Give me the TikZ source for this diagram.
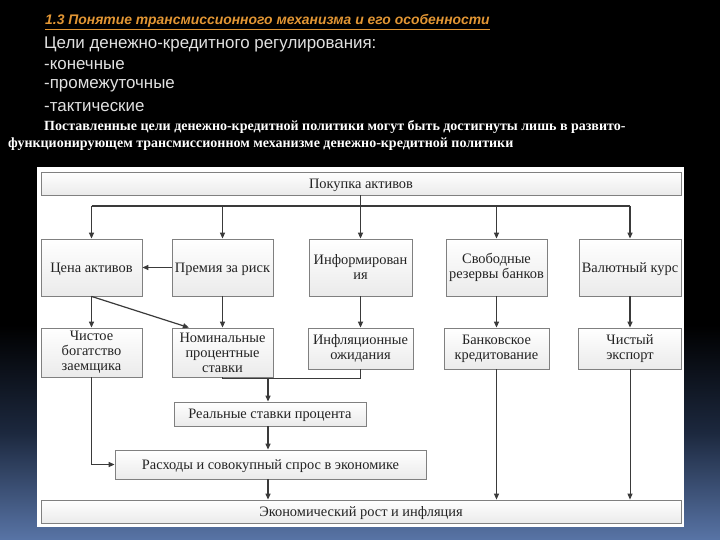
\documentclass[tikz,border=0pt]{standalone}
\usepackage{fontspec}
\setmainfont{Liberation Serif}
\newfontfamily\sansf{Liberation Sans}
\usetikzlibrary{arrows.meta,calc}
\definecolor{ttl}{RGB}{226,150,52}
\definecolor{bgblue}{RGB}{88,116,166}
\definecolor{bgmid}{RGB}{28,40,62}
\definecolor{boxline}{RGB}{128,128,128}
\definecolor{conn}{RGB}{58,58,58}
\definecolor{dtext}{RGB}{35,35,35}
\definecolor{hdtext}{RGB}{225,225,225}
\tikzset{
  x=1pt,y=-1pt,
  box/.style={draw=boxline,line width=0.8pt,top color=white,bottom color=black!8,
    text=dtext,font=\fontsize{14.4}{15}\selectfont,align=center,inner sep=1pt,
    minimum width=#1},
  oneline/.style={execute at begin node={\rule{0pt}{13pt}}},
  arr/.style={draw=conn,line width=1.2pt,-{Triangle[length=6pt,width=5pt]}},
  ln/.style={draw=conn,line width=1.2pt},
  hd/.style={anchor=west,text=hdtext,inner sep=0pt,font=\sansf\fontsize{16.9}{18}\selectfont},
}
\begin{document}
\begin{tikzpicture}
\useasboundingbox (0,0) rectangle (720,540);
% background
\fill[black] (0,0) rectangle (720,540);
\shade[top color=black,bottom color=bgblue,middle color=bgmid] (0,325) rectangle (720,540);
\fill[white] (37,167) rectangle (684,527);
% heading texts
\node[anchor=west,inner sep=0pt,text=ttl,font=\sansf\bfseries\itshape\fontsize{13.9}{15}\selectfont] (title) at (45,22) {\underline{1.3 Понятие трансмиссионного механизма и его особенности}};
\node[hd] (goals) at (44,44) {Цели денежно-кредитного регулирования:};
\node[hd] (g1) at (44,65) {-конечные};
\node[hd] (g2) at (44,86) {-промежуточные};
\node[hd] (g3) at (44,107) {-тактические};
\node[anchor=west,inner sep=0pt,text=white,font=\bfseries\fontsize{14}{15}\selectfont] (p1) at (44,127) {Поставленные цели денежно-кредитной политики могут быть достигнуты лишь в развито-};
\node[anchor=west,inner sep=0pt,text=white,font=\bfseries\fontsize{14}{15}\selectfont] (p2) at (8,144) {функционирующем трансмиссионном механизме денежно-кредитной политики};
% boxes
\node[box=640pt,oneline,minimum height=23pt] (top) at (361,183.5) {Покупка активов};
\node[box=101pt,oneline,minimum height=57pt] (cena) at (91.5,267.5) {Цена активов};
\node[box=101pt,oneline,minimum height=57pt] (prem) at (222.5,267.5) {Премия за риск};
\node[box=103pt,minimum height=57pt] (inf) at (360.5,267.5) {Информирован\\ия};
\node[box=101pt,minimum height=57pt] (svob) at (496.5,267.5) {Свободные\\резервы банков};
\node[box=102pt,oneline,minimum height=57pt] (val) at (630,267.5) {Валютный курс};
\node[box=101pt,minimum height=49pt] (chist) at (91.5,352.5) {Чистое\\богатство\\заемщика};
\node[box=101pt,minimum height=49pt] (nom) at (222.5,352.5) {Номинальные\\процентные\\ставки};
\node[box=105pt,minimum height=41pt] (infl) at (360.5,348.5) {Инфляционные\\ожидания};
\node[box=105pt,minimum height=41pt] (bank) at (496.5,348.5) {Банковское\\кредитование};
\node[box=103pt,minimum height=41pt] (exp) at (630,348.5) {Чистый\\экспорт};
\node[box=192pt,oneline,minimum height=24pt] (real) at (270,414) {Реальные ставки процента};
\node[box=311pt,oneline,minimum height=29pt] (rash) at (270.5,464.5) {Расходы и совокупный спрос в экономике};
\node[box=640pt,oneline,minimum height=23pt] (econ) at (361,511.5) {Экономический рост и инфляция};
% connectors
\coordinate (hy) at (0,206);
\coordinate (jn) at (268,378.5);
\draw[arr,line width=1.8pt] (inf.north |- top.south) -- (inf.north);
\draw[ln] (cena.north |- hy) -- (val.north |- hy);
\draw[arr] (cena.north |- hy) -- (cena.north);
\draw[arr] (prem.north |- hy) -- (prem.north);
\draw[arr] (svob.north |- hy) -- (svob.north);
\draw[arr] (val.north |- hy) -- (val.north);
\draw[arr] (prem.west) -- (cena.east);
\draw[arr] (cena.south) -- (chist.north);
\draw[arr] (cena.south) -- ($(nom.north west)!0.17!(nom.north east)$);
\draw[arr] (prem.south) -- (nom.north);
\draw[arr,line width=1.5pt] (inf.south) -- (infl.north);
\draw[arr] (svob.south) -- (bank.north);
\draw[arr] (val.south) -- (exp.north);
\draw[ln] (nom.south) |- (jn) -| (infl.south);
\draw[arr] (jn) -- (jn |- real.north);
\draw[arr] (real.south -| jn) -- (rash.north -| jn);
\draw[arr] (chist.south) |- (rash.west);
\draw[arr] (rash.south -| jn) -- (econ.north -| jn);
\draw[arr,line width=1pt] (bank.south) -- (bank.south |- econ.north);
\draw[arr,line width=1pt] (exp.south) -- (exp.south |- econ.north);
\end{tikzpicture}
\end{document}
